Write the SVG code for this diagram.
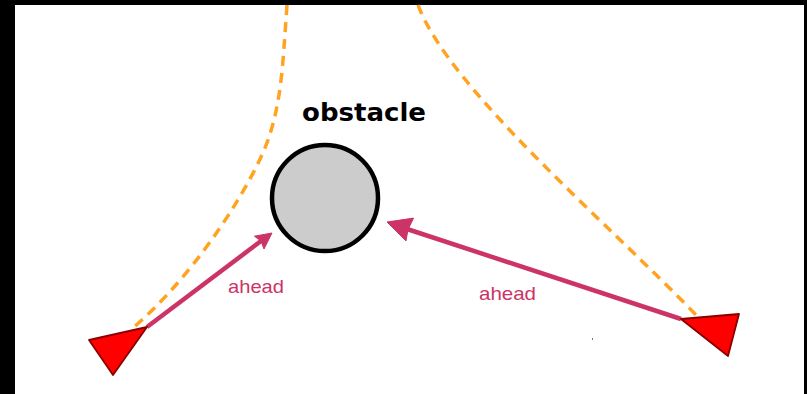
<svg xmlns="http://www.w3.org/2000/svg" width="807" height="394" viewBox="0 0 807 394">
<style>
.path{fill:none;stroke:#ffa320;stroke-width:3.5;stroke-dasharray:10 7}
.agent{fill:#ff0000;stroke:#8b0000;stroke-width:1.8;stroke-linejoin:round}
.ahead{stroke:#cc3366;stroke-width:4.5;fill:none}
.head{fill:#cc3366;stroke:#cc3366;stroke-width:1;stroke-linejoin:round}
.lbl{font-family:"Liberation Sans",Arial,sans-serif;font-size:19px;fill:#cc3366}
</style>
<rect x="0" y="0" width="807" height="394" fill="#000"/>
<rect x="15" y="5" width="789" height="389" fill="#fff"/>
<g id="paths">
<path class="path" d="M287,5 C283,60 282,100 268,140 S200,270 133,328"/>
<path class="path" d="M418,5 C450,90 610,225 697,316"/>
</g>
<g id="obstacle">
<circle cx="325" cy="198" r="53" fill="#cccccc" stroke="#000" stroke-width="4.5"/>
<text x="364" y="121" text-anchor="middle" font-family="'DejaVu Sans',Verdana,sans-serif" font-weight="bold" font-size="25" textLength="124" lengthAdjust="spacingAndGlyphs" fill="#000">obstacle</text>
</g>
<g id="connectors">
<line class="ahead" x1="147" y1="327" x2="261" y2="241"/>
<polygon class="head" points="272,233 264,249 261,241 254.4,236.2"/>
<line class="ahead" x1="681" y1="319" x2="407" y2="229"/>
<polygon class="head" points="387,222 413.6,218.1 408,229.5 406,240.9"/>
</g>
<g id="agent-left">
<polygon class="agent" points="89,340 147,327 113,375"/>
<text class="lbl" x="228" y="293" textLength="56" lengthAdjust="spacingAndGlyphs">ahead</text>
</g>
<g id="agent-right">
<polygon class="agent" points="681,319 739,314 728,356"/>
<text class="lbl" x="479" y="300" textLength="57" lengthAdjust="spacingAndGlyphs">ahead</text>
</g>
<rect x="592" y="338" width="1" height="2" fill="#777"/>
</svg>
